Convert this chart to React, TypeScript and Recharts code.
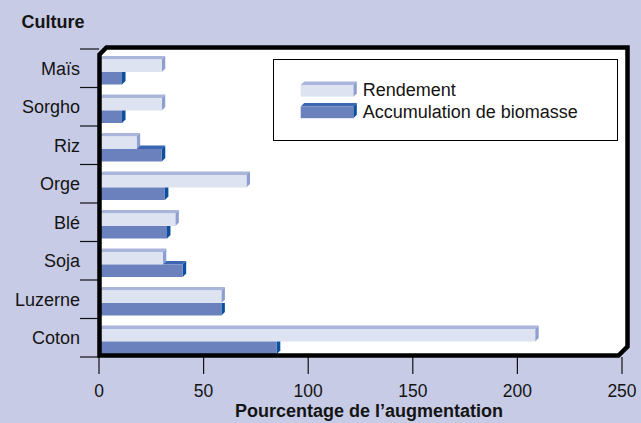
import React from 'react';
import { Bar, BarChart, Legend, XAxis, YAxis } from 'recharts';

const categories = ['Maïs', 'Sorgho', 'Riz', 'Orge', 'Blé', 'Soja', 'Luzerne', 'Coton'];
const rendement = [30, 30, 18, 70.5, 36.5, 30.5, 58.5, 208.5];
const biomasse = [11, 11, 30, 31.5, 32.5, 40, 58.5, 85];
const xTicks = [0, 50, 100, 150, 200, 250];

const data = categories.map((culture, i) => ({
  culture,
  rendement: rendement[i],
  biomasse: biomasse[i]
}));

const W = 641;
const H = 423;
const PLOT_LEFT = 99;
const PLOT_RIGHT = 622;
const PLOT_TOP = 49;
const PLOT_BOTTOM = 357;
const BAND = (PLOT_BOTTOM - PLOT_TOP) / categories.length;
const DEPTH = 3.5;
const SHIFT = 3.5;
const FONT = '"Liberation Sans", Arial, Helvetica, sans-serif';
const BG = '#c7cbe5';
const TEXT = '#141414';

const SERIES = {
  rendement: { name: 'Rendement', front: '#dde3f0', top: '#a9b5da', side: '#8e9fcf' },
  biomasse: { name: 'Accumulation de biomasse', front: '#6a81be', top: '#3c66b3', side: '#0b4f9f' }
};
const SERIES_ORDER = ['rendement', 'biomasse'] as const;

type Colors = { front: string; top: string; side: string };

// front face + oblique top and right faces
const Box3D = ({ x, y, w, h, c, topFrom = 0, clipSide = false }: {
  x: number; y: number; w: number; h: number; c: Colors; topFrom?: number; clipSide?: boolean;
}) => {
  const d = DEPTH;
  const tx = x + Math.min(topFrom, w);
  return (
    <g>
      {topFrom < w && (
        <polygon
          points={`${tx},${y} ${x + w},${y} ${x + w + d},${y - d} ${tx + d},${y - d}`}
          fill={c.top}
        />
      )}
      <polygon
        points={
          clipSide
            ? `${x + w},${y} ${x + w + d},${y} ${x + w + d},${y + h - d} ${x + w},${y + h}`
            : `${x + w},${y} ${x + w + d},${y - d} ${x + w + d},${y + h - d} ${x + w},${y + h}`
        }
        fill={c.side}
      />
      <rect x={x} y={y} width={w} height={h} fill={c.front} />
    </g>
  );
};

const RendementShape = (props: any) => {
  const { x, y, width, height } = props;
  return <Box3D x={x} y={y + SHIFT} w={width} h={height} c={SERIES.rendement} />;
};

const BiomasseShape = (props: any) => {
  const { x, y, width, height, payload } = props;
  // the bar above hides the part of the top face it covers
  const pxPerUnit = payload.biomasse ? width / payload.biomasse : 0;
  const rw = payload.rendement * pxPerUnit;
  return (
    <Box3D
      x={x}
      y={y + SHIFT}
      w={width}
      h={height}
      c={SERIES.biomasse}
      topFrom={rw}
      clipSide={rw >= width}
    />
  );
};

const CategoryTick = (props: any) => {
  const { y, payload, index } = props;
  const x0 = PLOT_LEFT - 19;
  return (
    <g>
      <line x1={x0} x2={PLOT_LEFT} y1={y - BAND / 2} y2={y - BAND / 2} stroke="#111" strokeWidth={1.2} />
      {index === categories.length - 1 && (
        <line x1={x0} x2={PLOT_LEFT} y1={y + BAND / 2} y2={y + BAND / 2} stroke="#111" strokeWidth={1.2} />
      )}
      <text x={x0} y={y + 6.5} textAnchor="end" fontFamily={FONT} fontSize={18} fill={TEXT}>
        {payload.value}
      </text>
    </g>
  );
};

const LegendBox = (props: any) => {
  const { payload = [] } = props;
  const entries = SERIES_ORDER.map((key) => payload.find((p: any) => p.dataKey === key)).filter(Boolean);
  return (
    <div
      style={{
        width: 345,
        height: 82,
        boxSizing: 'border-box',
        border: '1.3px solid #000',
        background: '#fff'
      }}
    >
      <svg width={343} height={80} style={{ display: 'block' }}>
        {entries.map((entry: any, i: number) => {
          const key = entry.dataKey as keyof typeof SERIES;
          const c = SERIES[key] || SERIES.rendement;
          const fy = 25 + i * 21.5;
          return (
            <g key={key}>
              <Box3D x={26.7} y={fy} w={52.6} h={11.7} c={c} />
              <text x={88.7} y={fy + 11} fontFamily={FONT} fontSize={18} fill={TEXT}>
                {entry.value}
              </text>
            </g>
          );
        })}
      </svg>
    </div>
  );
};

const framePath = (c1: number, c2: number) => {
  const l = PLOT_LEFT + 0.5;
  const t = 47.5;
  const r = 627.5;
  const b = 355.5;
  return `M ${l} ${t + c1} L ${l + c1} ${t} L ${r} ${t} L ${r} ${b - c2} L ${r - c2} ${b} L ${l} ${b} Z`;
};

const App: React.FC = () => {
  return (
    <div style={{ position: 'absolute', left: 0, top: 0, width: W, height: H, background: BG, overflow: 'hidden' }}>
      <svg width={W} height={H} style={{ position: 'absolute', left: 0, top: 0 }}>
        <path d={framePath(7, 9)} fill="#fff" />
      </svg>

      <div style={{ position: 'absolute', left: 0, top: 0 }}>
        <BarChart
          width={W}
          height={H}
          data={data}
          layout="vertical"
          margin={{ top: PLOT_TOP, right: W - PLOT_RIGHT, bottom: H - PLOT_BOTTOM - 45, left: 0 }}
          barGap={0}
          barSize={12.5}
        >
          <XAxis
            type="number"
            domain={[0, 250]}
            ticks={xTicks}
            height={45}
            axisLine={false}
            tickSize={17}
            tickMargin={11}
            tickLine={{ stroke: '#111', strokeWidth: 1.2 }}
            tick={{ fill: TEXT, fontSize: 17.5, fontFamily: FONT }}
          />
          <YAxis
            type="category"
            dataKey="culture"
            width={PLOT_LEFT}
            axisLine={false}
            tickLine={false}
            interval={0}
            tick={<CategoryTick />}
          />
          <Legend
            layout="horizontal"
            verticalAlign="middle"
            align="center"
            content={<LegendBox />}
            wrapperStyle={{ position: 'absolute', left: 273, top: 59, width: 345, height: 82 }}
          />
          <Bar
            dataKey="rendement"
            name={SERIES.rendement.name}
            fill={SERIES.rendement.front}
            shape={<RendementShape />}
            isAnimationActive={false}
          />
          <Bar
            dataKey="biomasse"
            name={SERIES.biomasse.name}
            fill={SERIES.biomasse.front}
            shape={<BiomasseShape />}
            isAnimationActive={false}
          />
        </BarChart>
      </div>

      <svg width={W} height={H} style={{ position: 'absolute', left: 0, top: 0, pointerEvents: 'none' }}>
        <path d={framePath(7, 9)} fill="none" stroke="#000" strokeWidth={4.5} strokeLinejoin="miter" />
        <text x={21.5} y={28} fontFamily={FONT} fontSize={18} fontWeight="bold" fill={TEXT}>
          Culture
        </text>
        <text x={369} y={417} textAnchor="middle" fontFamily={FONT} fontSize={18} fontWeight="bold" fill={TEXT}>
          Pourcentage de l’augmentation
        </text>
      </svg>
    </div>
  );
};

export default App;
